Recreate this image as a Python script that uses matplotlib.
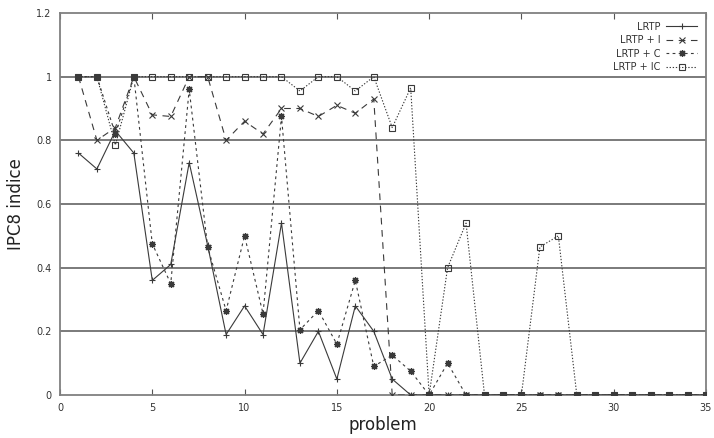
import matplotlib
matplotlib.use("Agg")
import matplotlib.pyplot as plt

problems = list(range(1, 36))
lrtp = [0.76, 0.71, 0.83, 0.76, 0.36, 0.41, 0.73, 0.47, 0.19, 0.28, 0.19, 0.54,
        0.10, 0.20, 0.05, 0.28, 0.20, 0.05] + [0.0] * 17
lrtp_i = [1.0, 0.80, 0.84, 1.0, 0.88, 0.875, 1.0, 1.0, 0.80, 0.86, 0.82, 0.90,
          0.90, 0.875, 0.91, 0.885, 0.93] + [0.0] * 18
lrtp_c = [1.0, 1.0, 0.82, 1.0, 0.475, 0.35, 0.96, 0.465, 0.265, 0.50, 0.255, 0.875,
          0.205, 0.265, 0.16, 0.36, 0.09, 0.125, 0.075, 0.0, 0.10] + [0.0] * 14
lrtp_ic = [1.0, 1.0, 0.785, 1.0, 1.0, 1.0, 1.0, 1.0, 1.0, 1.0, 1.0, 1.0, 0.955,
           1.0, 1.0, 0.955, 1.0, 0.84, 0.965, 0.0, 0.40, 0.54, 0.0, 0.0, 0.0,
           0.465, 0.50] + [0.0] * 8
labels = ["LRTP", "LRTP + I", "LRTP + C", "LRTP + IC"]
x_ticks = [0, 5, 10, 15, 20, 25, 30, 35]
y_ticks = [0, 0.2, 0.4, 0.6, 0.8, 1.0, 1.2]
y_tick_labels = ["0", "0.2", "0.4", "0.6", "0.8", "1", "1.2"]

fig = plt.figure(figsize=(7.14, 4.38), dpi=100)
ax = fig.add_axes([60 / 714, 43 / 438, 646 / 714, 382 / 438])

grid_c = "#707070"
for yv in y_ticks[1:-1]:
    ax.axhline(yv, color=grid_c, lw=1.3, zorder=1)

lc = "#3a3a3a"
ax.plot(problems, lrtp, color=lc, lw=0.8, ls="-", marker="+", ms=5, mew=0.8,
        label=labels[0], zorder=3)
ax.plot(problems, lrtp_i, color=lc, lw=0.8, ls=(0, (6, 5)), marker="x", ms=4,
        mew=0.8, label=labels[1], zorder=3)
ax.plot(problems, lrtp_c, color=lc, lw=0.8, ls=(0, (2.5, 3)), marker=(8, 2, 0),
        ms=5, mew=0.9, label=labels[2], zorder=3)
ax.plot(problems, lrtp_ic, color=lc, lw=0.8, ls=(0, (1.2, 1.6)), marker="s",
        ms=4.5, mew=0.8, mfc="none", label=labels[3], zorder=3)

ax.set_xlim(0, 35)
ax.set_ylim(0, 1.2)
ax.set_xticks(x_ticks)
ax.set_xticklabels([str(v) for v in x_ticks])
ax.set_yticks(y_ticks)
ax.set_yticklabels(y_tick_labels)
ax.tick_params(direction="in", length=4, width=0.8, colors="#555555",
               labelcolor="#333333", labelsize=7, top=True, right=False,
               left=False, pad=6)
for s in ax.spines.values():
    s.set_color("#808080")
    s.set_linewidth(1.3)

ax.set_xlabel("problem", fontsize=12, color="#222222", labelpad=2)
ax.set_ylabel("IPC8 indice", fontsize=12, color="#222222", labelpad=8)

leg = ax.legend(loc="upper right", frameon=False, markerfirst=False,
                fontsize=7, handlelength=3.2, handletextpad=0.6,
                labelspacing=0.35, borderaxespad=0.5)
for t in leg.get_texts():
    t.set_color("#333333")
    t.set_ha("right")
leg._legend_box.align = "right"

fig.savefig("out.png", dpi=100)
